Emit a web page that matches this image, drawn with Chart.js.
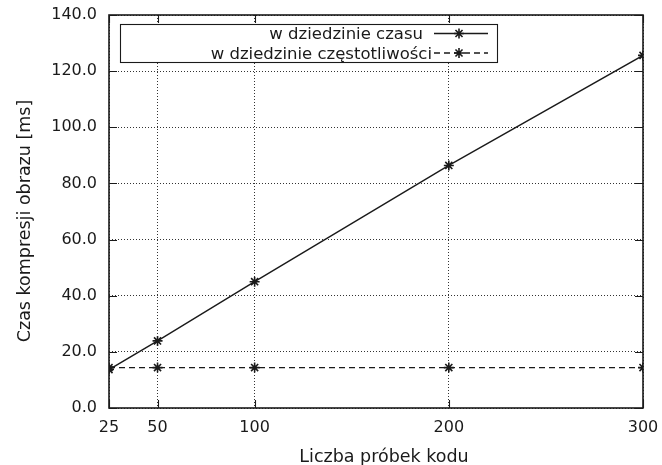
<!DOCTYPE html>
<html>
<head>
<meta charset="utf-8">
<script src="https://cdn.jsdelivr.net/npm/chart.js@4/dist/chart.umd.min.js"></script>
<style>
  html, body { margin: 0; padding: 0; background: #fff; }
  #wrap { width: 662px; height: 465px; }
</style>
</head>
<body>
<div id="wrap"><canvas id="chart" width="662" height="465"></canvas></div>
<script>
const sampleCounts = [25, 50, 100, 200, 300];
const timeDomain = [13.7, 23.9, 45.0, 86.4, 125.6];
const freqDomain = [14.4, 14.4, 14.4, 14.4, 14.4];
const xTicks = [25, 50, 100, 200, 300];
const yTicks = [0, 20, 40, 60, 80, 100, 120, 140];
const seriesNames = ['w dziedzinie czasu', 'w dziedzinie częstotliwości'];
const xTitle = 'Liczba próbek kodu';
const yTitle = 'Czas kompresji obrazu [ms]';

const FONT = '"DejaVu Sans", sans-serif';
const INK = '#1a1a1a';

// gnuplot-like frame: box, inward ticks, legend box, axis titles
const framePlugin = {
    id: 'frame',
    afterDraw(chart) {
        const {ctx, chartArea: a, scales: {x, y}} = chart;
        const tl = 8;
        ctx.save();
        ctx.strokeStyle = INK;
        ctx.lineWidth = 1.6;
        ctx.setLineDash([]);
        ctx.strokeRect(a.left, a.top, a.right - a.left, a.bottom - a.top);
        ctx.lineWidth = 1.1;
        ctx.beginPath();
        xTicks.forEach(v => {
            const px = Math.round(x.getPixelForValue(v)) + 0.5;
            ctx.moveTo(px, a.bottom); ctx.lineTo(px, a.bottom - tl);
            ctx.moveTo(px, a.top); ctx.lineTo(px, a.top + tl);
        });
        yTicks.forEach(v => {
            const py = Math.round(y.getPixelForValue(v)) + 0.5;
            ctx.moveTo(a.left, py); ctx.lineTo(a.left + tl, py);
            ctx.moveTo(a.right, py); ctx.lineTo(a.right - tl, py);
        });
        ctx.stroke();

        // legend (text is right-aligned the way gnuplot estimates it)
        const box = {l: 120, t: 24, r: 497, b: 62};
        ctx.fillStyle = '#fff';
        ctx.fillRect(box.l, box.t, box.r - box.l, box.b - box.t);
        ctx.lineWidth = 1.1;
        ctx.strokeStyle = INK;
        ctx.strokeRect(box.l + 0.5, box.t + 0.5, box.r - box.l, box.b - box.t);
        ctx.font = '16.5px ' + FONT;
        ctx.fillStyle = INK;
        ctx.textAlign = 'right';
        ctx.textBaseline = 'alphabetic';
        const textRight = [423, 432];
        chart.data.datasets.forEach((ds, i) => {
            const base = 39 + i * 20;
            const cy = 33.5 + i * 19.5;
            ctx.fillText(ds.label, textRight[i], base);
            ctx.beginPath();
            ctx.setLineDash(ds.borderDash || []);
            ctx.lineWidth = ds.borderWidth;
            ctx.moveTo(434, cy); ctx.lineTo(488, cy);
            ctx.stroke();
            ctx.setLineDash([]);
            ctx.lineWidth = ds.pointBorderWidth;
            Chart.helpers.drawPoint(ctx, {pointStyle: 'star', radius: ds.pointRadius}, 459, cy);
            ctx.stroke();
        });

        // axis titles
        ctx.font = '17.5px ' + FONT;
        ctx.textAlign = 'center';
        ctx.textBaseline = 'alphabetic';
        ctx.fillText(xTitle, 384, 462);
        ctx.translate(30, 221);
        ctx.rotate(-Math.PI / 2);
        ctx.fillText(yTitle, 0, 0);
        ctx.restore();
    }
};

const seriesStyle = {
    borderColor: INK,
    borderWidth: 1.4,
    pointStyle: 'star',
    pointRadius: 5,
    pointBorderWidth: 1.6,
    pointBorderColor: INK,
    fill: false,
    tension: 0
};

const config = {
    type: 'line',
    data: {
        datasets: [
            {
                ...seriesStyle,
                label: seriesNames[0],
                data: sampleCounts.map((c, i) => ({x: c, y: timeDomain[i]}))
            },
            {
                ...seriesStyle,
                label: seriesNames[1],
                data: sampleCounts.map((c, i) => ({x: c, y: freqDomain[i]})),
                borderDash: [6, 4]
            }
        ]
    },
    options: {
        responsive: false,
        animation: false,
        layout: {padding: {top: 15, right: 19, left: 0, bottom: 0}},
        plugins: {
            legend: {display: false},
            tooltip: {enabled: false}
        },
        scales: {
            x: {
                type: 'linear',
                min: 25,
                max: 300,
                afterBuildTicks: s => { s.ticks = xTicks.map(v => ({value: v})); },
                afterFit: s => {
                    s.height = 57;
                    s.paddingLeft = 0;
                    s.paddingRight = 0;
                },
                grid: {color: '#333', lineWidth: 1, drawTicks: false},
                border: {display: false, dash: [1, 2]},
                ticks: {
                    color: INK,
                    font: {family: FONT, size: 16},
                    padding: 10,
                    maxRotation: 0,
                    autoSkip: false
                }
            },
            y: {
                min: 0,
                max: 140,
                afterBuildTicks: s => { s.ticks = yTicks.map(v => ({value: v})); },
                afterFit: s => {
                    s.width = 109;
                    s.paddingTop = 0;
                    s.paddingBottom = 0;
                },
                grid: {color: '#333', lineWidth: 1, drawTicks: false},
                border: {display: false, dash: [1, 2]},
                ticks: {
                    color: INK,
                    font: {family: FONT, size: 16},
                    padding: 12,
                    callback: v => v.toFixed(1)
                }
            }
        }
    },
    plugins: [framePlugin]
};

window.addEventListener('DOMContentLoaded', () => {
    new Chart(document.getElementById('chart'), config);
});
</script>
</body>
</html>
